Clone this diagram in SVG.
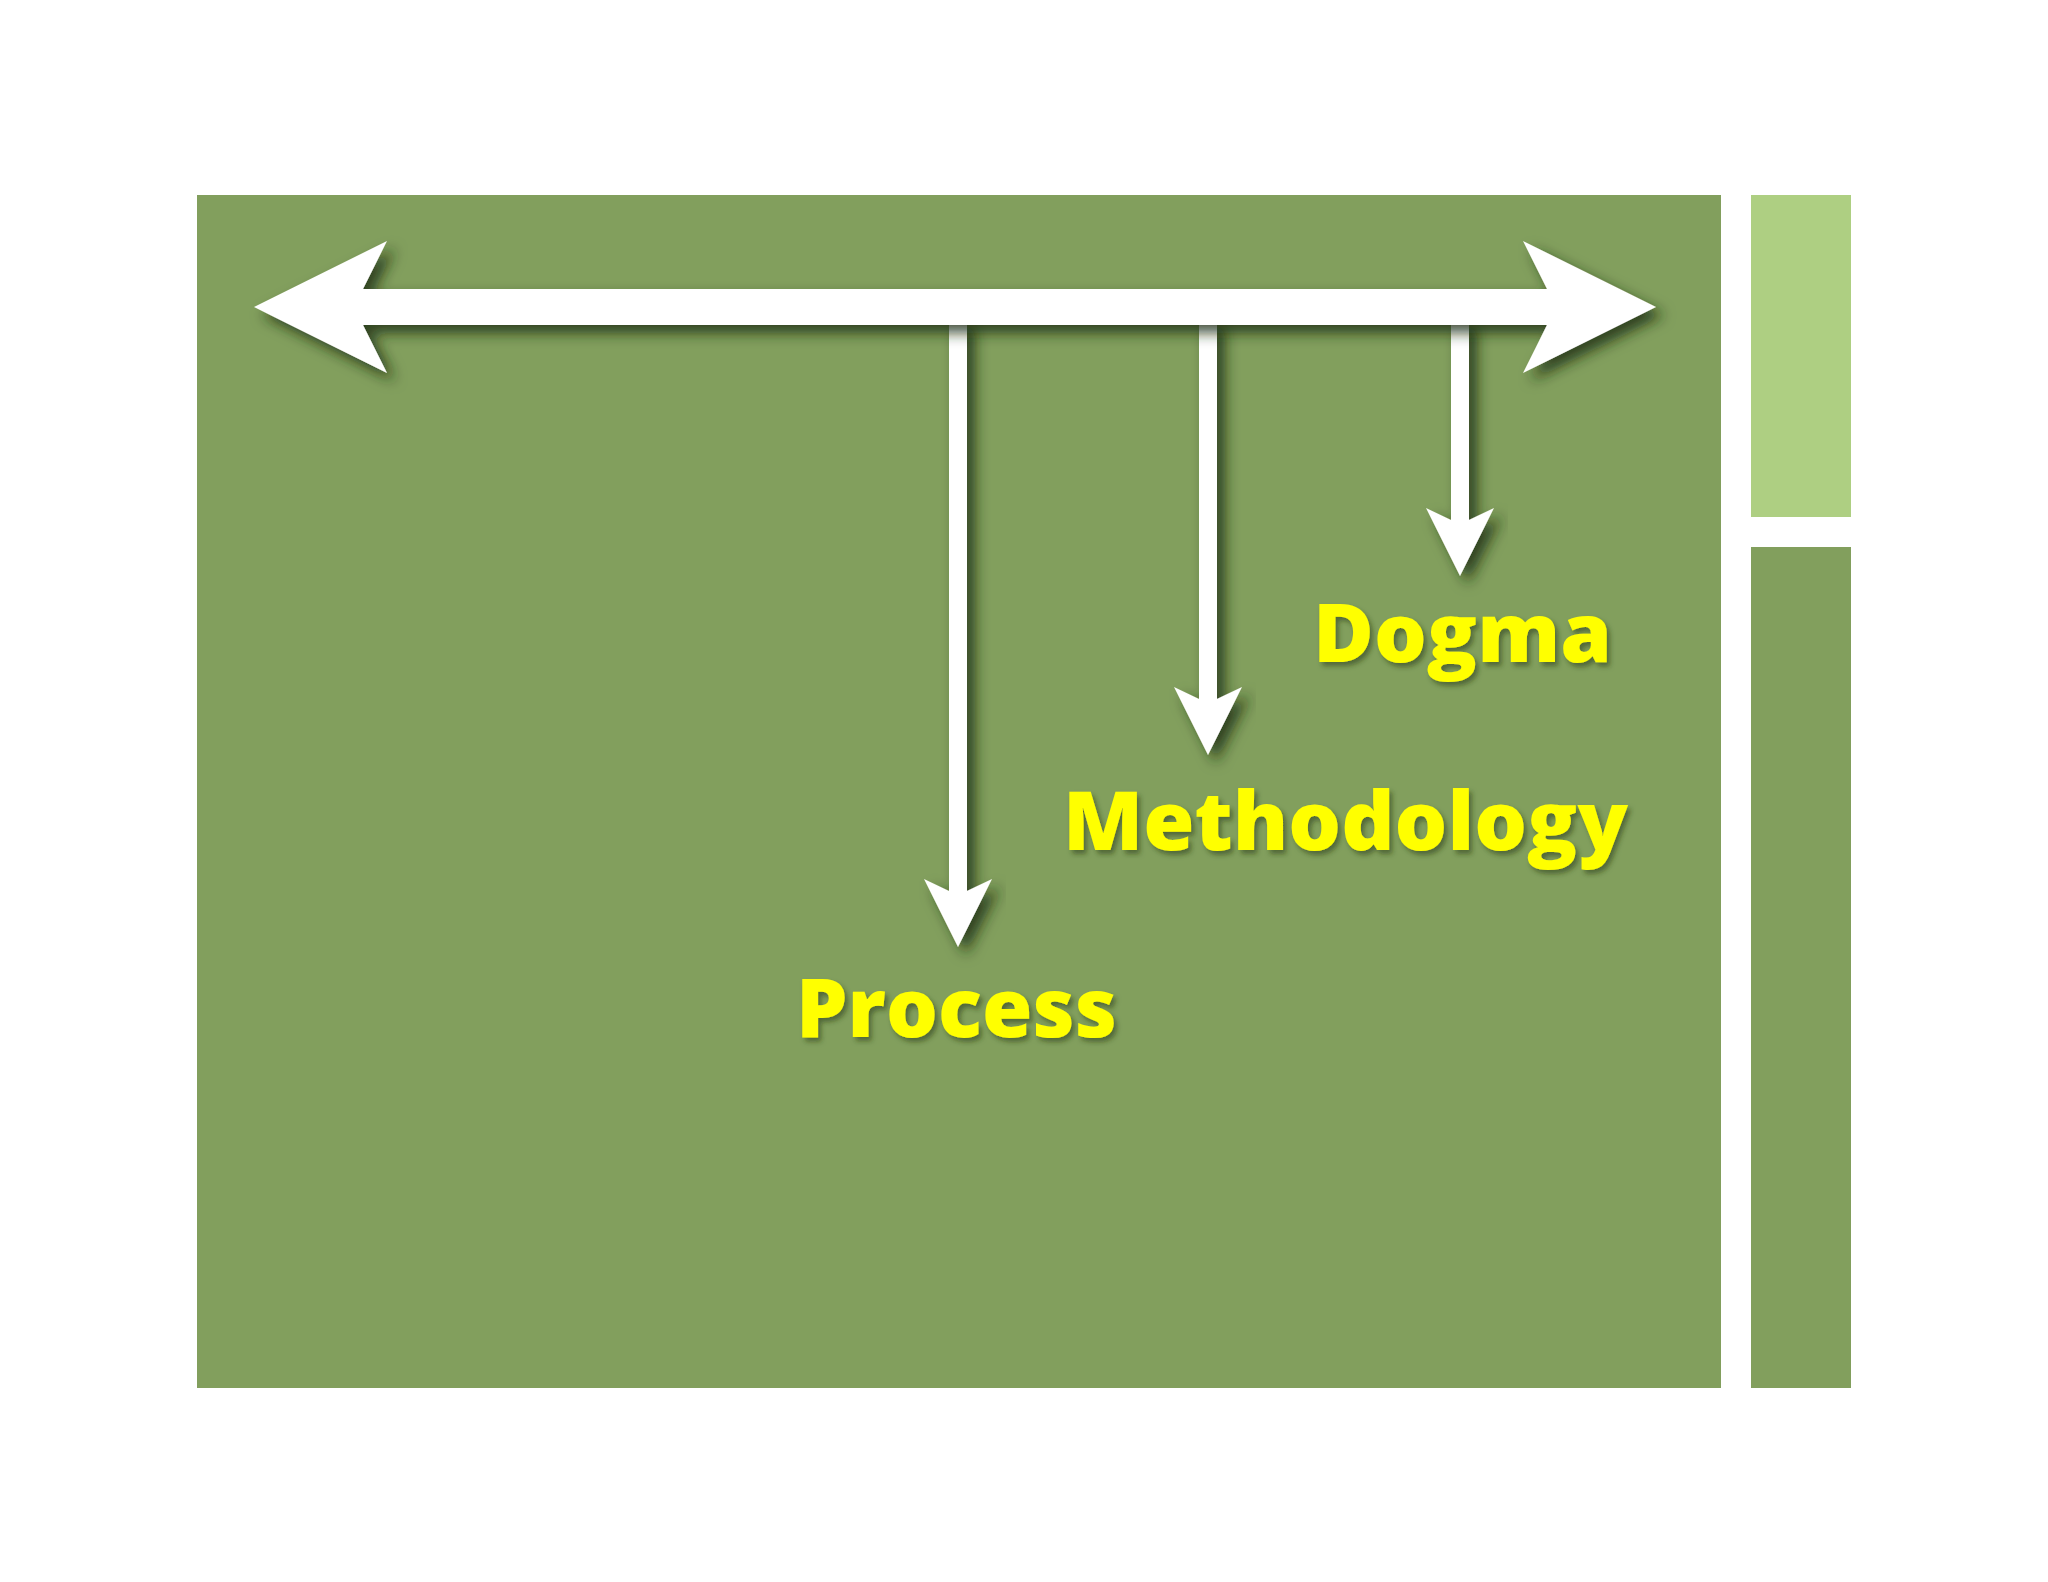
<svg xmlns="http://www.w3.org/2000/svg" width="2048" height="1582" viewBox="0 0 2048 1582">
  <defs>
    <filter id="arrowShadow" x="-20%" y="-20%" width="140%" height="160%">
      <feDropShadow dx="8" dy="8" stdDeviation="7" flood-color="#1a2a10" flood-opacity="0.8"/>
    </filter>
    <filter id="textShadow" x="-10%" y="-20%" width="120%" height="150%">
      <feDropShadow dx="3" dy="4" stdDeviation="2.5" flood-color="#2a3a18" flood-opacity="0.55"/>
    </filter>
  </defs>
  <style>
    .panel { fill: #829F5D; }
    .panelLight { fill: #AECF82; }
    .arrow { fill: #FFFFFF; filter: url(#arrowShadow); }
    .label { font-family: "Open Sans", "Liberation Sans", sans-serif; font-weight: 800; font-size: 81px; fill: #FFFF00; filter: url(#textShadow); }
  </style>
  <rect x="0" y="0" width="2048" height="1582" fill="#FFFFFF"/>

  <g id="main-panel">
    <rect class="panel" x="197" y="195" width="1524" height="1193"/>
  </g>
  <g id="side-panel-top">
    <rect class="panelLight" x="1751" y="195" width="100" height="322"/>
  </g>
  <g id="side-panel-bottom">
    <rect class="panel" x="1751" y="547" width="100" height="841"/>
  </g>

  <g id="connectors">
    <polygon class="arrow" points="949,318 967,318 967,891 992,879 958,947 924,879 949,891"/>
    <polygon class="arrow" points="1199,318 1217,318 1217,699 1242,687 1208,755 1174,687 1199,699"/>
    <polygon class="arrow" points="1451,318 1469,318 1469,520 1494,508 1460,576 1426,508 1451,520"/>
    <polygon class="arrow" points="254,307 387,241 363,289 1547,289 1523,241 1656,307 1523,373 1547,325 363,325 387,373"/>
  </g>

  <g id="label-dogma">
    <text class="label" x="1313" y="662" textLength="299" lengthAdjust="spacingAndGlyphs">Dogma</text>
  </g>
  <g id="label-methodology">
    <text class="label" x="1063" y="850" textLength="565" lengthAdjust="spacingAndGlyphs">Methodology</text>
  </g>
  <g id="label-process">
    <text class="label" x="796" y="1037" textLength="321" lengthAdjust="spacingAndGlyphs">Process</text>
  </g>
</svg>
